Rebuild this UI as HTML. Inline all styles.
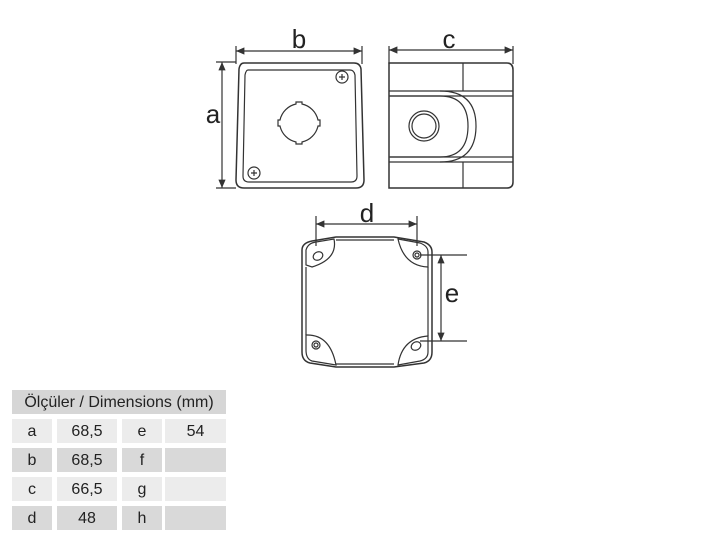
<!DOCTYPE html>
<html><head><style>
body{margin:0;background:#fff;width:720px;height:540px;overflow:hidden;position:relative;font-family:"Liberation Sans",sans-serif}
.t{position:absolute;font-size:16px;color:#222;text-align:center;line-height:23px}
</style></head><body>
<svg width="720" height="540" style="position:absolute;left:0;top:0" fill="none" stroke="#333" stroke-width="1.2">
<defs><marker id="ar" markerWidth="8" markerHeight="8" refX="7" refY="4" orient="auto-start-reverse"><path d="M0,1 L7,4 L0,7 z" fill="#333" stroke="none"/></marker></defs>
<path d="M244,63 H354 Q360,63 361,69 L364,180 Q364,188 356,188 H244 Q236,188 236,180 L239,69 Q240,63 244,63 Z" stroke-width="1.5"/>
<path d="M248,70 H350 Q354,70 355,75 L357,176 Q357,182 351,182 H249 Q243,182 243,176 L245,75 Q246,70 248,70 Z"/>
<path d="M296,102 h6 v2 a21,21 0 0 1 16,16 h2 v6 h-2 a21,21 0 0 1 -16,16 v2 h-6 v-2 a21,21 0 0 1 -16,-16 h-2 v-6 h2 a21,21 0 0 1 16,-16 z"/>
<circle cx="342" cy="77" r="6"/><path d="M339,77h6M342,74v6"/>
<circle cx="254" cy="173" r="6"/><path d="M251,173h6M254,170v6"/>
<line x1="222" y1="62" x2="222" y2="188" marker-start="url(#ar)" marker-end="url(#ar)"/>
<path d="M216,62h20M216,188h20M236,46v18M362,46v18"/>
<line x1="236" y1="51" x2="362" y2="51" marker-start="url(#ar)" marker-end="url(#ar)"/>
<path d="M389,63 H507 Q513,63 513,70 V182 Q513,188 507,188 H389 Z" stroke-width="1.5"/>
<path d="M389,91 H513 M389,96 H513 M389,157 H513 M389,162 H513 M463,63 V91 M463,162 V188"/>
<path d="M390,96 H440 Q468,96 468,126 Q468,157 440,157 H390" />
<path d="M440,91 Q476,91 476,126 Q476,162 440,162"/>
<circle cx="424" cy="126" r="15"/><circle cx="424" cy="126" r="12"/>
<path d="M389,46v18M513,46v18"/>
<line x1="389" y1="50" x2="513" y2="50" marker-start="url(#ar)" marker-end="url(#ar)"/>
<path d="M312,241 L336,237 H394 L424,242 Q432,245 432,252 V352 Q432,361 424,363 L394,367 H336 L310,363 Q302,361 302,352 V250 Q302,243 312,241 Z" stroke-width="1.5"/>
<path d="M306,250 Q308,243 316,242 L334,239 Q338,259 312,267 L306,265 Z"/>
<path d="M398,239 L420,243 Q428,246 428,252 V267 Q404,266 398,239 Z"/>
<path d="M306,350 V335 Q330,334 336,365 L312,361 Q306,359 306,350 Z"/>
<path d="M428,336 V352 Q428,359 420,361 L398,365 Q402,338 428,336 Z"/>
<path d="M336,240 H394 M336,364 H394 M306,267 V335 M428,267 V336"/>
<ellipse cx="318" cy="256" rx="5" ry="4" transform="rotate(-30 318 256)"/>
<ellipse cx="416" cy="346" rx="5" ry="4" transform="rotate(-30 416 346)"/>
<circle cx="417" cy="255" r="4"/><circle cx="417" cy="255" r="2"/>
<circle cx="316" cy="345" r="4"/><circle cx="316" cy="345" r="2"/>
<path d="M316,216v30M417,216v30M420,255h47M420,341h47"/>
<line x1="316" y1="224" x2="417" y2="224" marker-start="url(#ar)" marker-end="url(#ar)"/>
<line x1="441" y1="255" x2="441" y2="341" marker-start="url(#ar)" marker-end="url(#ar)"/>
<g stroke="none">
<rect x="12" y="390" width="214" height="24" fill="#d6d6d6"/>
<rect x="12" y="419" width="40" height="24" fill="#ececec"/><rect x="57" y="419" width="60" height="24" fill="#ececec"/><rect x="122" y="419" width="40" height="24" fill="#ececec"/><rect x="165" y="419" width="61" height="24" fill="#ececec"/>
<rect x="12" y="448" width="40" height="24" fill="#d9d9d9"/><rect x="57" y="448" width="60" height="24" fill="#d9d9d9"/><rect x="122" y="448" width="40" height="24" fill="#d9d9d9"/><rect x="165" y="448" width="61" height="24" fill="#d9d9d9"/>
<rect x="12" y="477" width="40" height="24" fill="#ececec"/><rect x="57" y="477" width="60" height="24" fill="#ececec"/><rect x="122" y="477" width="40" height="24" fill="#ececec"/><rect x="165" y="477" width="61" height="24" fill="#ececec"/>
<rect x="12" y="506" width="40" height="24" fill="#d9d9d9"/><rect x="57" y="506" width="60" height="24" fill="#d9d9d9"/><rect x="122" y="506" width="40" height="24" fill="#d9d9d9"/><rect x="165" y="506" width="61" height="24" fill="#d9d9d9"/>
</g>
<g fill="#222" stroke="none" font-family="Liberation Sans, sans-serif" font-size="26" text-anchor="middle">
<text x="299" y="48">b</text><text x="449" y="48">c</text><text x="213" y="123">a</text>
<text x="367" y="222">d</text><text x="452" y="302">e</text>
</g>
</svg>
<div class="t" style="left:12px;top:391px;width:214px">Ölçüler / Dimensions (mm)</div>
<div class="t" style="left:12px;top:420px;width:40px">a</div><div class="t" style="left:57px;top:420px;width:60px">68,5</div><div class="t" style="left:122px;top:420px;width:40px">e</div><div class="t" style="left:165px;top:420px;width:61px">54</div>
<div class="t" style="left:12px;top:449px;width:40px">b</div><div class="t" style="left:57px;top:449px;width:60px">68,5</div><div class="t" style="left:122px;top:449px;width:40px">f</div>
<div class="t" style="left:12px;top:478px;width:40px">c</div><div class="t" style="left:57px;top:478px;width:60px">66,5</div><div class="t" style="left:122px;top:478px;width:40px">g</div>
<div class="t" style="left:12px;top:507px;width:40px">d</div><div class="t" style="left:57px;top:507px;width:60px">48</div><div class="t" style="left:122px;top:507px;width:40px">h</div>
</body></html>
